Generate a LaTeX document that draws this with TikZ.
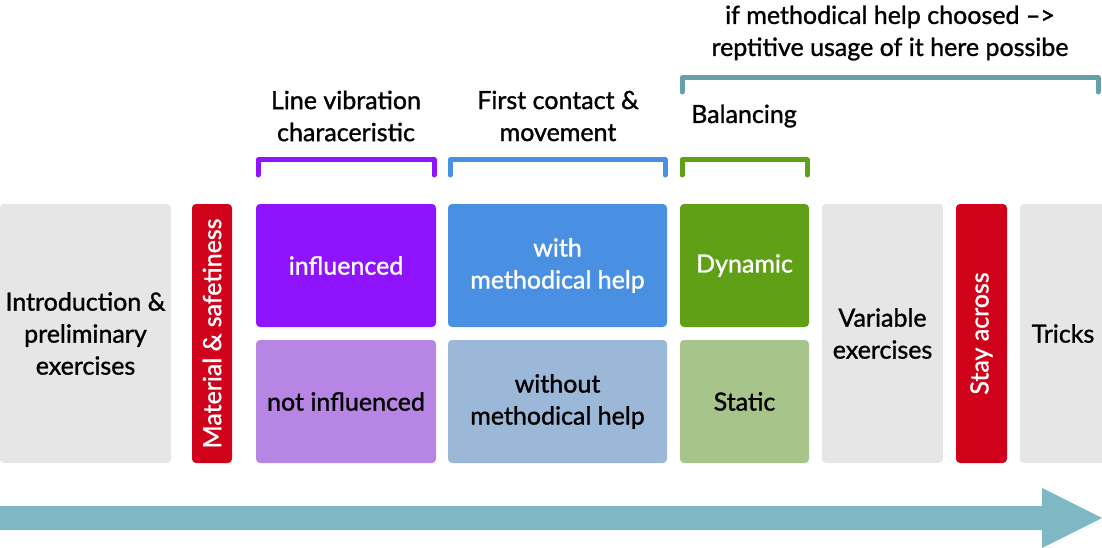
\documentclass[tikz,border=0pt]{standalone}
\usepackage{fontspec}
\setmainfont{Lato}[FakeBold=1.2]
\newfontfamily\med{Lato}[FakeBold=1.2]
\definecolor{greybox}{HTML}{E6E6E6}
\definecolor{redbox}{HTML}{D0021B}
\definecolor{purpleA}{HTML}{9013FE}
\definecolor{purpleB}{HTML}{B785E4}
\definecolor{blueA}{HTML}{4A90E2}
\definecolor{blueB}{HTML}{9BB8D9}
\definecolor{greenA}{HTML}{5FA016}
\definecolor{greenB}{HTML}{A7C48A}
\definecolor{tealarrow}{HTML}{7EB8C4}
\definecolor{tealbracket}{HTML}{66A0AB}
\begin{document}
\begin{tikzpicture}[x=1pt,y=-1pt,
  box/.style={rounded corners=4pt, inner sep=0pt, align=center, font=\med\fontsize{25}{32}\selectfont},
  bracket/.style={line width=5pt, line cap=round, line join=round},
  vtext/.style={text=white, rotate=90, font=\med\fontsize{25}{32}\selectfont, inner sep=0pt},
  lbl/.style={align=center, font=\med\fontsize{25}{32}\selectfont, inner sep=0pt}]
\useasboundingbox (0,0) rectangle (1102,548);
% boxes
\node[box, fill=greybox, minimum width=171pt, minimum height=259pt] (intro) at (85.5,333.5) {Introduction \&\\preliminary\\exercises};
\node[box, fill=redbox, minimum width=40pt, minimum height=259pt] (mat) at (212,333.5) {};
\node[vtext] (matt) at (mat.center) {Material \& safetiness};
\node[box, fill=purpleA, text=white, minimum width=180pt, minimum height=123pt] (infl) at (346,265.5) {influenced};
\node[box, fill=purpleB, minimum width=180pt, minimum height=123pt] (ninfl) at (346,401.5) {not influenced};
\node[box, fill=blueA, text=white, minimum width=219pt, minimum height=123pt] (with) at (557.5,265.5) {with\\methodical help};
\node[box, fill=blueB, minimum width=219pt, minimum height=123pt] (without) at (557.5,401.5) {without\\methodical help};
\node[box, fill=greenA, text=white, minimum width=129pt, minimum height=123pt] (dyn) at (744.5,265.5) {Dynamic};
\node[box, fill=greenB, minimum width=129pt, minimum height=123pt] (stat) at (744.5,401.5) {Static};
\node[box, fill=greybox, minimum width=121pt, minimum height=259pt] (var) at (882.5,333.5) {Variable\\exercises};
\node[box, fill=redbox, minimum width=51pt, minimum height=259pt] (stay) at (981.5,333.5) {};
\node[vtext] (stayt) at (stay.center) {Stay across};
\node[box, fill=greybox, minimum width=86pt, minimum height=259pt] (tricks) at (1063,333.5) {Tricks};
% brackets
\draw[bracket, purpleA] (258,175) -- (258,160) -- (434,160) -- (434,175);
\draw[bracket, blueA] (450,175) -- (450,160) -- (665,160) -- (665,175);
\draw[bracket, greenA] (682,175) -- (682,160) -- (807,160) -- (807,175);
\draw[bracket, tealbracket] (682,92) -- (682,78) -- (1098,78) -- (1098,92);
% labels
\node[lbl] (l1) at (346,116) {Line vibration\\characeristic};
\node[lbl] (l2) at (558,116) {First contact \&\\movement};
\node[lbl] (l3) at (744,116) {Balancing};
\node[lbl] (l4) at (890,33) {if methodical help choosed –>\\reptitive usage of it here possibe};
% arrow
\fill[tealarrow] (0,506) -- (1042,506) -- (1042,488) -- (1102,518) -- (1042,548) -- (1042,530) -- (0,530) -- cycle;
\end{tikzpicture}
\end{document}
